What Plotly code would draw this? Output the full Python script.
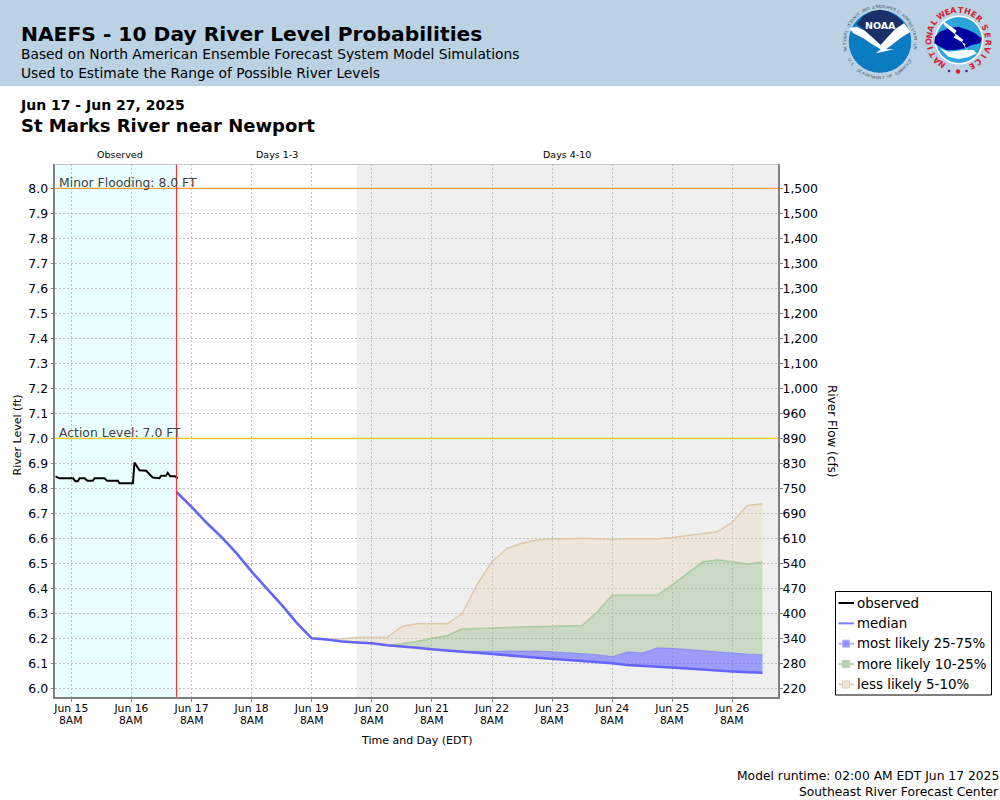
import math

import plotly.graph_objects as go

FIG_W = 1000
FIG_H = 800
PLOT_L, PLOT_R, PLOT_T, PLOT_B = 55.3, 778.3, 164.3, 697.3

# data
observed_times = [
    "2025-06-15 01:36", "2025-06-15 03:15", "2025-06-15 08:45", "2025-06-15 09:36", "2025-06-15 10:36",
    "2025-06-15 11:18", "2025-06-15 13:18", "2025-06-15 14:24", "2025-06-15 16:36", "2025-06-15 17:18",
    "2025-06-15 21:12", "2025-06-15 22:18", "2025-06-16 02:36", "2025-06-16 03:12", "2025-06-16 08:36",
    "2025-06-16 09:12", "2025-06-16 11:12", "2025-06-16 13:54", "2025-06-16 16:30", "2025-06-16 19:12",
    "2025-06-16 19:48", "2025-06-16 21:48", "2025-06-16 22:30", "2025-06-16 23:30", "2025-06-17 01:24",
    "2025-06-17 02:30",
]
observed_ft = [
    6.848, 6.84, 6.84, 6.828, 6.828, 6.84, 6.84, 6.83, 6.83, 6.84,
    6.84, 6.83, 6.83, 6.82, 6.82, 6.903, 6.872, 6.87, 6.843, 6.84,
    6.85, 6.85, 6.862, 6.848, 6.848, 6.84,
]

forecast_times = [f"2025-06-{d} {h}:00" for d in range(17, 27) for h in ("02", "08", "14", "20")]
median_ft = [
    6.785, 6.726, 6.662, 6.605, 6.540, 6.467, 6.400, 6.334, 6.262, 6.200,
    6.195, 6.187, 6.183, 6.180, 6.172, 6.168, 6.162, 6.156, 6.150, 6.146,
    6.142, 6.136, 6.130, 6.127, 6.122, 6.118, 6.113, 6.109, 6.105, 6.100,
    6.093, 6.090, 6.087, 6.083, 6.079, 6.075, 6.070, 6.067, 6.064, 6.062,
]
upper_75_ft = [
    6.785, 6.726, 6.662, 6.605, 6.540, 6.467, 6.400, 6.334, 6.262, 6.200,
    6.195, 6.187, 6.183, 6.180, 6.172, 6.168, 6.162, 6.156, 6.150, 6.148,
    6.147, 6.148, 6.149, 6.150, 6.149, 6.146, 6.143, 6.140, 6.135, 6.127,
    6.146, 6.142, 6.162, 6.160, 6.155, 6.150, 6.145, 6.140, 6.137, 6.134,
]
upper_90_ft = [
    6.785, 6.726, 6.662, 6.605, 6.540, 6.467, 6.400, 6.334, 6.262, 6.200,
    6.195, 6.188, 6.184, 6.180, 6.172, 6.178, 6.187, 6.200, 6.210, 6.237,
    6.240, 6.242, 6.243, 6.245, 6.246, 6.247, 6.249, 6.251, 6.305, 6.373,
    6.373, 6.372, 6.373, 6.414, 6.460, 6.505, 6.514, 6.505, 6.497, 6.505,
]
upper_95_ft = [
    6.785, 6.726, 6.662, 6.605, 6.540, 6.467, 6.400, 6.334, 6.262, 6.200,
    6.197, 6.198, 6.203, 6.203, 6.203, 6.247, 6.258, 6.258, 6.258, 6.297,
    6.414, 6.507, 6.560, 6.580, 6.593, 6.597, 6.600, 6.600, 6.598, 6.595,
    6.598, 6.598, 6.598, 6.603, 6.611, 6.619, 6.626, 6.665, 6.731, 6.738,
]

y_ticks = [6.0 + i / 10 for i in range(21)]
flow_labels = [
    "220", "280", "340", "400", "470", "540", "610", "690", "750", "830", "890",
    "960", "1,000", "1,100", "1,200", "1,200", "1,300", "1,300", "1,400", "1,500", "1,500",
]
day_ticks = [f"2025-06-{d} 08:00" for d in range(15, 27)]
day_labels = [f"Jun {d}" for d in range(15, 27)]

legend_names = ["observed", "median", "most likely 25-75%", "more likely 10-25%", "less likely 5-10%"]
legend_lines = ["black", "#8080ff", "#b4b4ff", "#b5d3b0", "#e6ccb3"]
legend_boxes = [None, None, "#9090ff", "#b5d3b0", "#efe5da"]

X_RANGE = ["2025-06-15 01:36", "2025-06-27 02:20"]
Y_RANGE = [5.964, 8.096]
RUN_TIME = "2025-06-17 02:00"
DAY4_START = "2025-06-20 02:00"

FONT = "DejaVu Sans"
MEDIAN_COLOR = "#6464ff"
GRID = "#c0c0c0"
AXIS = "#808080"


# the paper fills the whole page, so page pixels map straight onto it
def px(x):
    return x / FIG_W


def py(y):
    return 1 - y / FIG_H


def page_text(x, y, text, size, anchor="left", color="black", bold=False, angle=0):
    # annotations keep about 2px of padding inside their box
    nudge = {"left": -2, "right": 2}.get(anchor, 0)
    return dict(
        xref="paper", yref="paper", x=px(x + nudge), y=py(y), text=f"<b>{text}</b>" if bold else text,
        showarrow=False, xanchor=anchor, yanchor="middle", textangle=angle,
        font=dict(family=FONT, size=size, color=color),
    )


def circle(cx, cy, r, color):
    return dict(
        type="circle", xref="paper", yref="paper", layer="above",
        x0=px(cx - r), x1=px(cx + r), y0=py(cy + r), y1=py(cy - r),
        fillcolor=color, line=dict(width=0),
    )


def poly(points, color, origin=(0, 0), scale=1.0):
    # points may be given in crop coordinates: origin is the crop corner, scale the crop zoom
    coords = [(origin[0] + x * scale, origin[1] + y * scale) for x, y in points]
    path = "M " + " L ".join(f"{px(x):.5f} {py(y):.5f}" for x, y in coords) + " Z"
    return dict(type="path", xref="paper", yref="paper", layer="above", path=path, fillcolor=color, line=dict(width=0))


def page_rect(x0, y0, x1, y1, fill, line_color=None, line_width=0):
    return dict(
        type="rect", xref="paper", yref="paper", layer="above",
        x0=px(x0), x1=px(x1), y0=py(y1), y1=py(y0), fillcolor=fill,
        line=dict(color=line_color, width=line_width),
    )


def ring_text(cx, cy, r, letters, start_deg, step_deg, size, color, bold=False):
    # one rotated letter per position around a logo ring, angles clockwise from the top
    out = []
    for i, ch in enumerate(letters):
        deg = start_deg + i * step_deg
        rad = math.radians(deg)
        out.append(page_text(cx + r * math.sin(rad), cy - r * math.cos(rad), ch, size, "center", color, bold, deg))
    return out


def ring_text_bottom(cx, cy, r, letters, start_deg, step_deg, size, color):
    # same, for text along the lower edge that reads left to right
    out = []
    for i, ch in enumerate(letters):
        deg = start_deg + i * step_deg
        rad = math.radians(deg)
        out.append(page_text(cx + r * math.sin(rad), cy + r * math.cos(rad), ch, size, "center", color, False, -deg))
    return out


fig = go.Figure()

# stacked probability bands, each filled down to the series below it
fig.add_trace(go.Scatter(x=forecast_times, y=median_ft, mode="lines", line=dict(width=0), hoverinfo="skip"))
fig.add_trace(go.Scatter(x=forecast_times, y=upper_75_ft, mode="lines", name=legend_names[2],
                         line=dict(color="rgba(110,110,255,0.5)", width=1), fill="tonexty", fillcolor="rgba(100,100,255,0.6)"))
fig.add_trace(go.Scatter(x=forecast_times, y=upper_90_ft, mode="lines", name=legend_names[3],
                         line=dict(color="rgba(150,195,140,0.7)", width=1.5), fill="tonexty", fillcolor="rgba(150,185,135,0.42)"))
fig.add_trace(go.Scatter(x=forecast_times, y=upper_95_ft, mode="lines", name=legend_names[4],
                         line=dict(color="rgba(222,196,165,0.9)", width=1.5), fill="tonexty", fillcolor="rgba(235,215,190,0.4)"))

fig.add_trace(go.Scatter(x=observed_times, y=observed_ft, mode="lines", name=legend_names[0], line=dict(color="black", width=2)))
fig.add_trace(go.Scatter(x=forecast_times, y=median_ft, mode="lines", name=legend_names[1], line=dict(color=MEDIAN_COLOR, width=2.6)))

# invisible trace to bring the right hand axis up
fig.add_trace(go.Scatter(x=[X_RANGE[0]], y=[Y_RANGE[0]], yaxis="y2", mode="markers", marker=dict(opacity=0), hoverinfo="skip"))

NOAA_CROP = (840, 0)
NWS_CROP = (925, 0)
CROP_SCALE = 1 / 3

shapes = [
    # header band
    dict(type="rect", xref="paper", yref="paper", layer="below", x0=0, x1=1, y0=py(86), y1=1,
         fillcolor="#bbd2e5", line=dict(width=0)),
    # period shading
    dict(type="rect", xref="x", yref="y", layer="below", x0=X_RANGE[0], x1=RUN_TIME, y0=Y_RANGE[0], y1=Y_RANGE[1],
         fillcolor="#e9ffff", line=dict(width=0)),
    dict(type="rect", xref="x", yref="y", layer="below", x0=DAY4_START, x1=X_RANGE[1], y0=Y_RANGE[0], y1=Y_RANGE[1],
         fillcolor="#efefef", line=dict(width=0)),
    # reference lines
    dict(type="line", xref="x", yref="y", x0=X_RANGE[0], x1=X_RANGE[1], y0=8.0, y1=8.0, line=dict(color="#ffa040", width=1.2)),
    dict(type="line", xref="x", yref="y", x0=X_RANGE[0], x1=X_RANGE[1], y0=7.0, y1=7.0, line=dict(color="#ffcc00", width=1.2)),
    dict(type="line", xref="x", yref="y", x0=RUN_TIME, x1=RUN_TIME, y0=Y_RANGE[0], y1=Y_RANGE[1], line=dict(color="#ff3030", width=1.2)),
    # lighter top border
    dict(type="line", xref="x", yref="y", x0=X_RANGE[0], x1=X_RANGE[1], y0=Y_RANGE[1], y1=Y_RANGE[1], line=dict(color="#b4b4b4", width=1.2)),
    # NOAA logo
    circle(880, 41.5, 31.3, "#0b7cc2"),
    poly([(50, 72), (70, 48), (95, 34), (120, 29), (145, 34), (170, 48), (192, 70), (165, 88), (140, 115), (122, 135),
          (100, 115), (75, 92)], "#1b3068", NOAA_CROP, CROP_SCALE),
    poly([(27, 85), (50, 80), (75, 92), (100, 115), (122, 135), (140, 115), (165, 88), (192, 70), (212, 95), (185, 112),
          (155, 135), (138, 148), (163, 147), (130, 155), (108, 160), (122, 148), (100, 135), (70, 115), (40, 100)],
         "white", NOAA_CROP, CROP_SCALE),
    # NWS logo
    circle(959, 40, 24.5, "white"),
    circle(959, 40, 23, "#2da4dc"),
    poly([(30, 110), (45, 95), (70, 85), (100, 80), (130, 90), (150, 100), (170, 115), (165, 130), (140, 135), (120, 145),
          (90, 150), (65, 150), (45, 140), (28, 130)], "#00009c", NWS_CROP, CROP_SCALE),
    poly([(45, 145), (70, 155), (120, 150), (145, 150), (155, 160), (130, 172), (100, 177), (70, 170)], "white", NWS_CROP, CROP_SCALE),
    poly([(50, 60), (85, 85), (95, 92), (90, 100), (115, 120), (110, 127), (150, 178), (118, 140), (122, 133), (85, 112),
          (92, 105), (60, 78)], "white", NWS_CROP, CROP_SCALE),
    circle(949, 71, 1.3, "#2030a0"),
    circle(966.5, 71, 1.3, "#2030a0"),
    circle(958, 71.5, 2.2, "#e0202c"),
    # legend box
    page_rect(835.5, 591.5, 991.5, 695, "white", "black", 1),
]

annotations = [
    page_text(21, 33.5, "NAEFS - 10 Day River Level Probabilities", 20.25, bold=True),
    page_text(21, 54, "Based on North American Ensemble Forecast System Model Simulations", 13.8),
    page_text(21, 73, "Used to Estimate the Range of Possible River Levels", 13.8),
    page_text(20, 105, "Jun 17 - Jun 27, 2025", 14, bold=True),
    page_text(21, 126, "St Marks River near Newport", 18, bold=True),
    page_text(120, 154, "Observed", 9.5, "center"),
    page_text(276.5, 154, "Days 1-3", 9.5, "center"),
    page_text(566.5, 154, "Days 4-10", 9.5, "center"),
    page_text(59, 182, "Minor Flooding: 8.0 FT", 12.4, color="#404040"),
    page_text(59, 432, "Action Level: 7.0 FT", 12.4, color="#404040"),
    page_text(17.5, 435, "River Level (ft)", 11, "center", angle=-90),
    page_text(832, 431, "River Flow (cfs)", 12, "center", angle=90),
    page_text(417, 740, "Time and Day (EDT)", 11, "center"),
    page_text(999, 775.5, "Model runtime: 02:00 AM EDT Jun 17 2025", 12.3, "right"),
    page_text(999, 792, "Southeast River Forecast Center", 12.3, "right"),
    page_text(880, 25, "NOAA", 9.5, "center", color="white", bold=True),
]
annotations += ring_text(880, 42, 35.5, "NATIONAL OCEANIC AND ATMOSPHERIC ADMINISTRATION", -103, 4.4, 4, "#445566")
annotations += ring_text_bottom(880, 42, 35.5, "U.S. DEPARTMENT OF COMMERCE", -60, 4.6, 4, "#445566")
annotations += ring_text(958.5, 40, 29.5, "NATIONAL", -145, 12.9, 8, "#d82030", True)
annotations += ring_text(958.5, 40, 29.5, "WEATHER", -35, 13, 8, "#d82030", True)
annotations += ring_text(958.5, 40, 29.5, "SERVICE", 66, 14.5, 8, "#d82030", True)

# the second tick line sits closer than plotly's line height, so it goes in separately
for tick in day_ticks:
    annotations.append(dict(
        xref="x", yref="paper", x=tick, y=py(720.5), text="8AM", showarrow=False, xanchor="center", yanchor="middle",
        font=dict(family=FONT, size=10.8, color="black"),
    ))

# plotly's own legend keeps a 30px symbol slot, the reference uses about 16px, so it is laid out by hand
row_step = 20.35
for i, name in enumerate(legend_names):
    row_y = 603 + i * row_step
    shapes.append(dict(type="line", xref="paper", yref="paper", layer="above", x0=px(838.5), x1=px(854),
                       y0=py(row_y), y1=py(row_y), line=dict(color=legend_lines[i], width=2)))
    if legend_boxes[i]:
        shapes.append(page_rect(842.5, row_y - 3.5, 849.5, row_y + 3.5, legend_boxes[i], legend_lines[i], 1))
    annotations.append(page_text(857, row_y, name, 13.4))

fig.update_layout(
    width=FIG_W,
    height=FIG_H,
    margin=dict(l=0, r=0, t=0, b=0, pad=0),
    paper_bgcolor="white",
    plot_bgcolor="white",
    font=dict(family=FONT, size=12, color="black"),
    shapes=shapes,
    annotations=annotations,
    showlegend=False,
    xaxis=dict(
        type="date", range=X_RANGE, domain=[px(PLOT_L), px(PLOT_R)], tickvals=day_ticks, ticktext=day_labels,
        tickfont=dict(size=10.8), tickangle=0, ticklabelstandoff=-3,
        showgrid=True, gridcolor=GRID, griddash="2px,2px", gridwidth=1, ticks="outside", ticklen=3, tickcolor=AXIS,
        showline=True, linecolor=AXIS, linewidth=1.5, zeroline=False, automargin=False,
    ),
    yaxis=dict(
        range=Y_RANGE, domain=[py(PLOT_B), py(PLOT_T)], tickvals=y_ticks, ticktext=[f"{v:.1f}" for v in y_ticks],
        tickfont=dict(size=12.4),
        showgrid=True, gridcolor=GRID, griddash="2px,2px", gridwidth=1, ticks="outside", ticklen=3, tickcolor=AXIS,
        showline=True, linecolor=AXIS, linewidth=1.5, zeroline=False, automargin=False,
    ),
    yaxis2=dict(
        range=Y_RANGE, domain=[py(PLOT_B), py(PLOT_T)], overlaying="y", side="right", anchor="x", tickvals=y_ticks,
        ticktext=flow_labels, tickfont=dict(size=12.4), ticklabelstandoff=-3,
        showgrid=False, ticks="outside", ticklen=3, tickcolor=AXIS,
        showline=True, linecolor=AXIS, linewidth=1.5, zeroline=False, automargin=False,
    ),
)

fig.write_html("out.html", config={"displayModeBar": False}, post_script="document.body.style.margin='0'")
